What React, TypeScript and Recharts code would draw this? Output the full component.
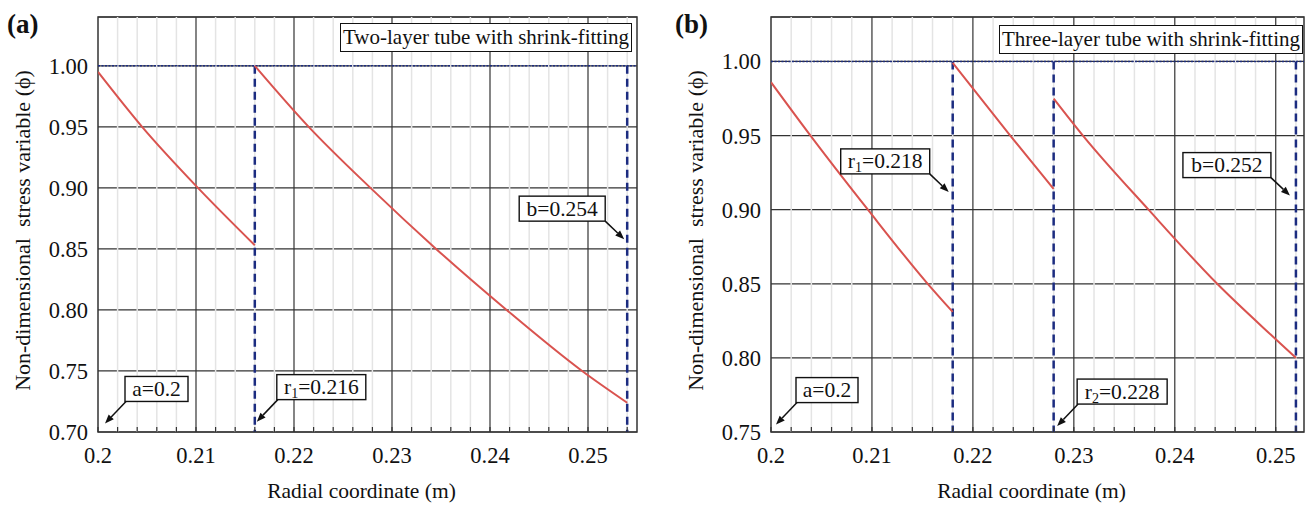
import React from 'react'
import {
  LineChart,
  Line,
  XAxis,
  YAxis,
  CartesianGrid,
  ReferenceLine,
  ReferenceArea,
  ReferenceDot,
} from 'recharts'

const SERIF = '"Liberation Serif", "Times New Roman", serif'
const RED = '#d9534f'
const NAVY = '#1c2c80'
const GRID = '#333333'
const MINOR = '#e4e4e4'

// (a) two-layer tube: radial coordinate (m) vs phi
const twoInnerX = [0.2, 0.2045, 0.2102, 0.216]
const twoInnerPhi = [0.995, 0.95, 0.9, 0.853]
const twoOuterX = [0.216, 0.2215, 0.2278, 0.2345, 0.2417, 0.2494, 0.254]
const twoOuterPhi = [1.0, 0.95, 0.9, 0.85, 0.8, 0.75, 0.724]
const twoRadii = [0.216, 0.254] // r1, b
const twoYTicks = [0.7, 0.75, 0.8, 0.85, 0.9, 0.95, 1.0]

// (b) three-layer tube
const threeInnerX = [0.2, 0.2038, 0.2096, 0.2154, 0.218]
const threeInnerPhi = [0.986, 0.951, 0.9, 0.851, 0.831]
const threeMiddleX = [0.218, 0.2237, 0.228]
const threeMiddlePhi = [0.999, 0.95, 0.914]
const threeOuterX = [0.228, 0.2309, 0.2374, 0.2442, 0.25, 0.252]
const threeOuterPhi = [0.975, 0.95, 0.9, 0.85, 0.8126, 0.8]
const threeRadii = [0.218, 0.228, 0.252] // r1, r2, b
const threeYTicks = [0.75, 0.8, 0.85, 0.9, 0.95, 1.0]

const xMajorTicks = [0.2, 0.21, 0.22, 0.23, 0.24, 0.25]
const xMinorTicks = Array.from({ length: 28 }, (_, i) => (200 + 2 * i) / 1000)

interface Callout {
  name: string
  sub?: string
  value: number
  phi: number // y of arrow tip
  dx: number // arrow tip shift in px
  side: 'right' | 'left'
  w: number
}

const twoCallouts: Callout[] = [
  { name: 'a', value: 0.2, phi: 0.707, dx: 7, side: 'right', w: 63 },
  { name: 'r', sub: '1', value: 0.216, phi: 0.7085, dx: 2, side: 'right', w: 89 },
  { name: 'b', value: 0.254, phi: 0.858, dx: -3, side: 'left', w: 86 },
]

const threeCallouts: Callout[] = [
  { name: 'a', value: 0.2, phi: 0.755, dx: 5, side: 'right', w: 62 },
  { name: 'r', sub: '1', value: 0.218, phi: 0.912, dx: -4, side: 'left', w: 89 },
  { name: 'r', sub: '2', value: 0.228, phi: 0.754, dx: 3.5, side: 'right', w: 90 },
  { name: 'b', value: 0.252, phi: 0.9095, dx: -6, side: 'left', w: 88 },
]

const zip = (xs: number[], ys: number[]) => xs.map((x, i) => ({ x, y: ys[i] }))

const XTick = (props: any) => {
  const { x, y, payload } = props
  const v = payload.value
  const major = xMajorTicks.some((m) => Math.abs(m - v) < 1e-9)
  return (
    <g>
      <line x1={x} x2={x} y1={y} y2={y - 5} stroke={GRID} strokeWidth={1.2} />
      {major && (
        <text x={x} y={y + 31} textAnchor="middle" fontSize={22.5} fontFamily={SERIF} fill="#111">
          {String(v)}
        </text>
      )}
    </g>
  )
}

const YLabel = (props: any) => {
  const vb = props.viewBox || {}
  const cx = vb.x + vb.width - 76
  const cy = vb.y + vb.height / 2 + 6
  return (
    <text
      x={cx}
      y={cy}
      transform={`rotate(-90 ${cx} ${cy})`}
      textAnchor="middle"
      dominantBaseline="central"
      fontSize={22}
      fontFamily={SERIF}
      fill="#111"
      style={{ whiteSpace: 'pre' }}
    >
      Non-dimensional  stress variable (ϕ)
    </text>
  )
}

const XLabel = (props: any) => {
  const vb = props.viewBox || {}
  return (
    <text
      x={vb.x + vb.width / 2 - 6}
      y={vb.y + 66}
      textAnchor="middle"
      fontSize={21.5}
      fontFamily={SERIF}
      fill="#111"
    >
      Radial coordinate (m)
    </text>
  )
}

function CalloutShape({ cx, cy, c }: { cx: number; cy: number; c: Callout }) {
  const tx = cx + c.dx
  const ty = cy
  const right = c.side === 'right'
  const sx = right ? tx + 21 : tx - 19
  const sy = right ? ty - 22 : ty - 18
  const boxX = right ? sx - 1 : sx - c.w
  const boxY = sy - 25
  const ang = Math.atan2(ty - sy, tx - sx)
  const hl = 9
  const hw = 3.5
  const bx = tx - hl * Math.cos(ang)
  const by = ty - hl * Math.sin(ang)
  const px = -Math.sin(ang) * hw
  const py = Math.cos(ang) * hw
  return (
    <g>
      <line x1={sx} y1={sy} x2={bx} y2={by} stroke="#111" strokeWidth={1.5} />
      <polygon points={`${tx},${ty} ${bx + px},${by + py} ${bx - px},${by - py}`} fill="#111" />
      <rect x={boxX} y={boxY} width={c.w} height={25} fill="#fff" stroke="#111" strokeWidth={1.4} />
      <text x={boxX + c.w / 2} y={boxY + 19.5} textAnchor="middle" fontSize={21.5} fontFamily={SERIF} fill="#111">
        <tspan>{c.name}</tspan>
        {c.sub && (
          <tspan fontSize={14} dy={4}>
            {c.sub}
          </tspan>
        )}
        <tspan dy={c.sub ? -4 : 0}>{'=' + String(c.value)}</tspan>
      </text>
    </g>
  )
}

interface PanelProps {
  width: number
  yAxisWidth: number
  marginRight: number
  xMax: number
  yMin: number
  yMax: number
  yTicks: number[]
  segments: { x: number[]; y: number[] }[]
  radii: number[]
  callouts: Callout[]
}

function Panel({ width, yAxisWidth, marginRight, xMax, yMin, yMax, yTicks, segments, radii, callouts }: PanelProps) {
  const minor = xMinorTicks.filter((v) => v <= xMax + 1e-9)
  return (
    <LineChart width={width} height={509} margin={{ top: 17, right: marginRight, bottom: 0, left: 0 }}>
      <CartesianGrid vertical={false} stroke={GRID} strokeWidth={1.2} />
      {minor
        .filter((v) => !xMajorTicks.some((m) => Math.abs(m - v) < 1e-9))
        .map((v) => (
          <ReferenceLine key={'mn' + v} x={v} stroke={MINOR} strokeWidth={1.5} />
        ))}
      {xMajorTicks.slice(1).map((v) => (
        <ReferenceLine key={'mj' + v} x={v} stroke={GRID} strokeWidth={1.2} />
      ))}
      <XAxis
        type="number"
        dataKey="x"
        domain={[0.2, xMax]}
        allowDataOverflow
        ticks={minor}
        interval={0}
        tick={<XTick />}
        tickLine={false}
        axisLine={false}
        tickSize={0}
        tickMargin={0}
        height={77}
        label={<XLabel />}
      />
      <YAxis
        type="number"
        domain={[yMin, yMax]}
        allowDataOverflow
        ticks={yTicks}
        interval={0}
        tickFormatter={(v: number) => v.toFixed(2)}
        tick={{ fontSize: 22.5, fill: '#111', fontFamily: SERIF }}
        tickLine={false}
        axisLine={false}
        tickSize={0}
        tickMargin={10}
        width={yAxisWidth}
        label={<YLabel />}
      />
      <ReferenceLine y={1} stroke={NAVY} strokeWidth={1.5} strokeDasharray="2 1.5" />
      {radii.map((r) => (
        <ReferenceLine
          key={'r' + r}
          segment={[
            { x: r, y: 1 },
            { x: r, y: yMin },
          ]}
          stroke={NAVY}
          strokeWidth={2.5}
          strokeDasharray="8 5"
        />
      ))}
      {segments.map((s, i) => (
        <Line
          key={'s' + i}
          data={zip(s.x, s.y)}
          dataKey="y"
          type="monotone"
          stroke={RED}
          strokeWidth={2}
          dot={false}
          activeDot={false}
          isAnimationActive={false}
        />
      ))}
      <ReferenceArea
        x1={0.2}
        x2={xMax}
        y1={yMin}
        y2={yMax}
        fill="none"
        stroke={GRID}
        strokeWidth={1.5}
        ifOverflow="visible"
      />
      {callouts.map((c, i) => (
        <ReferenceDot
          key={'c' + i}
          x={c.value}
          y={c.phi}
          r={1}
          ifOverflow="visible"
          shape={(p: any) => <CalloutShape cx={p.cx} cy={p.cy} c={c} />}
        />
      ))}
    </LineChart>
  )
}

const titleBox: React.CSSProperties = {
  position: 'absolute',
  height: 29,
  boxSizing: 'border-box',
  border: '1.4px solid #111',
  background: '#fff',
  fontFamily: SERIF,
  fontSize: 21,
  lineHeight: '27px',
  textAlign: 'center',
  color: '#111',
  whiteSpace: 'nowrap',
}

const panelTag: React.CSSProperties = {
  position: 'absolute',
  top: 11,
  fontFamily: SERIF,
  fontWeight: 'bold',
  fontSize: 27,
  lineHeight: '27px',
  color: '#111',
}

export default function App() {
  return (
    <div style={{ position: 'absolute', left: 0, top: 0, width: 1309, height: 509, background: '#fff' }}>
      <div style={{ position: 'absolute', left: 0, top: 0 }}>
        <Panel
          width={655}
          yAxisWidth={98}
          marginRight={18}
          xMax={0.255}
          yMin={0.7}
          yMax={1.04}
          yTicks={twoYTicks}
          segments={[
            { x: twoInnerX, y: twoInnerPhi },
            { x: twoOuterX, y: twoOuterPhi },
          ]}
          radii={twoRadii}
          callouts={twoCallouts}
        />
      </div>
      <div style={{ position: 'absolute', left: 655, top: 0 }}>
        <Panel
          width={654}
          yAxisWidth={116}
          marginRight={5}
          xMax={0.2528}
          yMin={0.75}
          yMax={1.03}
          yTicks={threeYTicks}
          segments={[
            { x: threeInnerX, y: threeInnerPhi },
            { x: threeMiddleX, y: threeMiddlePhi },
            { x: threeOuterX, y: threeOuterPhi },
          ]}
          radii={threeRadii}
          callouts={threeCallouts}
        />
      </div>
      <div style={{ ...panelTag, left: 7 }}>(a)</div>
      <div style={{ ...panelTag, left: 675 }}>(b)</div>
      <div style={{ ...titleBox, left: 340, top: 23, width: 292 }}>Two-layer tube with shrink-fitting</div>
      <div style={{ ...titleBox, left: 999, top: 25, width: 304 }}>Three-layer tube with shrink-fitting</div>
    </div>
  )
}
